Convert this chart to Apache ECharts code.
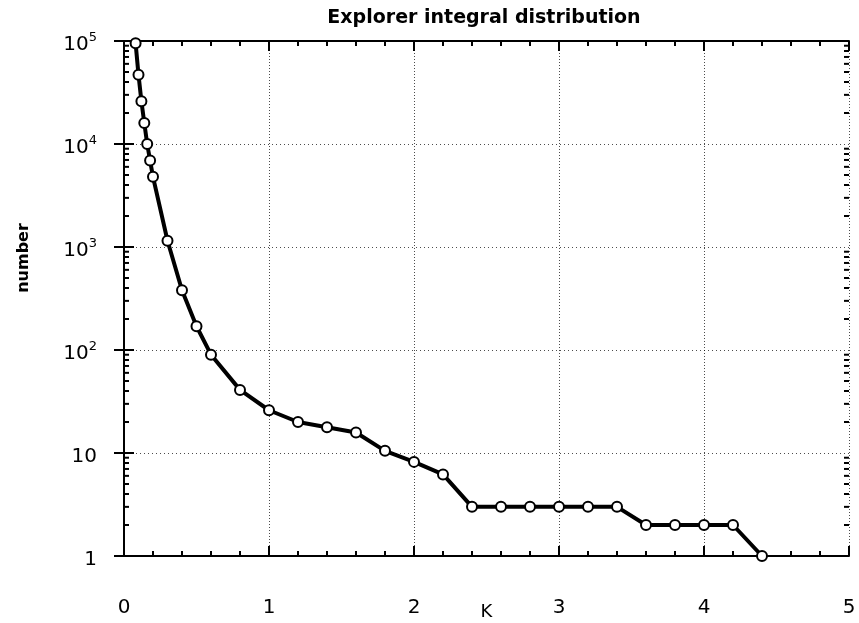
<!DOCTYPE html>
<html>
<head>
<meta charset="utf-8">
<script src="https://cdn.jsdelivr.net/npm/echarts@6/dist/echarts.min.js"></script>
<style>html,body{margin:0;padding:0;background:#fff}#c{width:859px;height:623px}</style>
</head>
<body>
<div id="c"></div>
<script>
const chartTitle = 'Explorer integral distribution';
const xName = 'K';
const yName = 'number';
const xValues = [0.08, 0.1, 0.12, 0.14, 0.16, 0.18, 0.2, 0.3, 0.4, 0.5, 0.6, 0.8, 1.0, 1.2, 1.4, 1.6, 1.8, 2.0, 2.2, 2.4, 2.6, 2.8, 3.0, 3.2, 3.4, 3.6, 3.8, 4.0, 4.2, 4.4];
const yValues = [95000, 47000, 26000, 16000, 10000, 6900, 4800, 1150, 380, 170, 90, 41, 26, 20, 17.8, 15.8, 10.5, 8.2, 6.2, 3, 3, 3, 3, 3, 3, 2, 2, 2, 2, 1];
const xTickLabels = ['0', '1', '2', '3', '4', '5'];
const yTickLabels = {1: '1', 10: '10', 100: '10^2', 1000: '10^3', 10000: '10^4', 100000: '10^5'};
const yMinorTicks = [2,3,4,5,6,7,8,9,20,30,40,50,60,70,80,90,200,300,400,500,600,700,800,900,2000,3000,4000,5000,6000,7000,8000,9000,20000,30000,40000,50000,60000,70000,80000,90000];

const FONT = 'DejaVu Sans';
const chart = echarts.init(document.getElementById('c'));

function yFmt(v) {
  const s = yTickLabels[Math.round(v)];
  if (!s) return '';
  if (s.indexOf('^') < 0) return '{b|' + s + '}';
  const parts = s.split('^');
  return '{b|' + parts[0] + '}{s|' + parts[1] + '}';
}

const axisLine = { show: true, lineStyle: { color: '#000', width: 2 } };

chart.setOption({
  backgroundColor: '#fff',
  animation: false,
  title: {
    text: chartTitle,
    left: 479,
    textAlign: 'center',
    top: 4,
    textStyle: { fontFamily: FONT, fontSize: 19, fontWeight: 'bold', color: '#000' }
  },
  grid: { left: 124, right: 10, top: 41, bottom: 67, containLabel: false, outerBoundsMode: 'none' },
  graphic: [{
    type: 'text',
    x: 24, y: 258,
    rotation: Math.PI / 2,
    style: { text: yName, fontFamily: FONT, fontSize: 16, fontWeight: 'bold', fill: '#000', align: 'center', verticalAlign: 'middle' }
  }],
  xAxis: [{
    type: 'value', position: 'bottom', min: 0, max: 5, interval: 1,
    name: xName, nameLocation: 'middle', nameGap: 47, nameMoveOverlap: false,
    nameTextStyle: { fontFamily: FONT, fontSize: 18, color: '#000' },
    axisLine: axisLine,
    axisTick: { show: true, inside: true, length: 10, lineStyle: { color: '#000', width: 2 } },
    minorTick: { show: true, splitNumber: 5, length: 5, lineStyle: { color: '#000', width: 2 } },
    splitLine: { show: true, lineStyle: { color: '#000', width: 1, type: [1, 2], opacity: 0.7 } },
    axisLabel: { margin: 42, fontFamily: FONT, fontSize: 20, color: '#000', formatter: (v) => xTickLabels[Math.round(v)] }
  }, {
    type: 'value', position: 'top', min: 0, max: 5, interval: 1,
    axisLine: axisLine,
    axisTick: { show: true, inside: true, length: 10, lineStyle: { color: '#000', width: 2 } },
    minorTick: { show: true, splitNumber: 5, length: 5, lineStyle: { color: '#000', width: 2 } },
    splitLine: { show: false },
    axisLabel: { show: false }
  }],
  yAxis: [{
    type: 'log', logBase: 10, min: 1, max: 100000, position: 'left',
    axisLine: axisLine,
    axisTick: { show: true, inside: true, length: 10, lineStyle: { color: '#000', width: 2 } },
    splitLine: { show: true, lineStyle: { color: '#000', width: 1, type: [1, 3], opacity: 0.7 } },
    axisLabel: {
      margin: 27, formatter: yFmt, color: '#000',
      rich: {
        b: { fontFamily: FONT, fontSize: 20, color: '#000', padding: [8, 0, 0, 0] },
        s: { fontFamily: FONT, fontSize: 13, color: '#000', padding: [0, 0, 6, 0] }
      }
    }
  }, {
    type: 'log', logBase: 10, min: 1, max: 100000, position: 'right',
    axisLine: axisLine,
    axisTick: { show: true, inside: true, length: 10, lineStyle: { color: '#000', width: 2 } },
    splitLine: { show: false },
    axisLabel: { show: false }
  }],
  series: [{
    type: 'custom',
    xAxisIndex: 0, yAxisIndex: 0,
    silent: true,
    clip: false,
    data: yMinorTicks.map(v => [0, v]),
    renderItem: function (params, api) {
      const v = api.value(1);
      const l = api.coord([0, v]);
      const r = api.coord([5, v]);
      return {
        type: 'group',
        children: [
          { type: 'line', shape: { x1: l[0], y1: l[1], x2: l[0] + 5, y2: l[1] }, style: { stroke: '#000', lineWidth: 2 } },
          { type: 'line', shape: { x1: r[0], y1: r[1], x2: r[0] - 5, y2: r[1] }, style: { stroke: '#000', lineWidth: 2 } }
        ]
      };
    },
    z: 3
  }, {
    type: 'line',
    xAxisIndex: 0, yAxisIndex: 0,
    data: xValues.map((x, i) => [x, yValues[i]]),
    symbol: 'emptyCircle',
    symbolSize: 10,
    lineStyle: { color: '#000', width: 4 },
    itemStyle: { color: '#000', borderColor: '#000', borderWidth: 2.5 },
    clip: false,
    z: 5
  }]
});
</script>
</body>
</html>
